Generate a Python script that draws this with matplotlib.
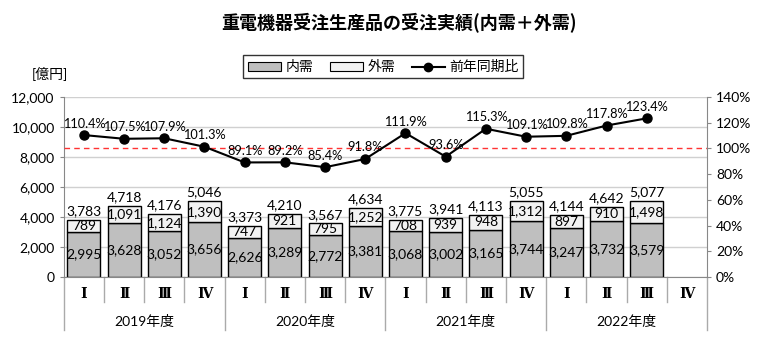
import matplotlib
matplotlib.use("Agg")
import matplotlib.pyplot as plt
import matplotlib.patches as mpatches
import matplotlib.lines as mlines
import numpy as np

plt.rcParams['font.family'] = ['Lato', 'Noto Sans CJK JP', 'DejaVu Sans']

# ===============================
# DATA
# ===============================
years = ["2019年度", "2020年度", "2021年度", "2022年度"]
quarters = ["Ⅰ", "Ⅱ", "Ⅲ", "Ⅳ"]

domestic = [2995, 3628, 3052, 3656, 2626, 3289, 2772, 3381,
            3068, 3002, 3165, 3744, 3247, 3732, 3579]
overseas = [789, 1091, 1124, 1390, 747, 921, 795, 1252,
            708, 939, 948, 1312, 897, 910, 1498]
totals = [3783, 4718, 4176, 5046, 3373, 4210, 3567, 4634,
          3775, 3941, 4113, 5055, 4144, 4642, 5077]
yoy = [110.4, 107.5, 107.9, 101.3, 89.1, 89.2, 85.4, 91.8,
       111.9, 93.6, 115.3, 109.1, 109.8, 117.8, 123.4]

n_slots = len(years) * len(quarters)
x = np.arange(len(domestic))

# ===============================
# FIGURE
# ===============================
fig = plt.figure(figsize=(7.68, 3.61), dpi=100)
ax = fig.add_axes([0.083, 0.2327, 0.8376, 0.4986])
ax2 = ax.twinx()

gray = "#bfbfbf"
light = "#f2f2f2"
fs = 10

ax.set_axisbelow(True)
ax.yaxis.grid(True, color="#d0d0d0", linewidth=1)
bw = 0.82
ax.bar(x, domestic, width=bw, color=gray, edgecolor="black", linewidth=1, zorder=2)
ax.bar(x, overseas, width=bw, bottom=domestic, color=light, edgecolor="black",
       linewidth=1, zorder=2)

for i in x:
    ax.text(i, domestic[i] / 2, f"{domestic[i]:,}", ha="center", va="center",
            fontsize=fs, zorder=3)
    ax.text(i, domestic[i] + overseas[i] / 2, f"{overseas[i]:,}", ha="center",
            va="center", fontsize=fs, zorder=3)
    ax.annotate(f"{totals[i]:,}", (i, domestic[i] + overseas[i]),
                xytext=(0, 2), textcoords="offset points", ha="center",
                va="bottom", fontsize=fs)

ax.set_xlim(-0.5, n_slots - 0.5)
ax.set_ylim(0, 12000)
ax.set_yticks(range(0, 12001, 2000))
ax.yaxis.set_major_formatter(matplotlib.ticker.StrMethodFormatter("{x:,.0f}"))
ax.tick_params(axis="y", labelsize=fs, length=3, color="#888888")
ax.set_xticks([])
for s in ["top", "right"]:
    ax.spines[s].set_visible(False)
ax.spines["left"].set_color("#888888")
ax.spines["bottom"].set_color("#888888")

# right axis - year on year ratio
ax2.set_ylim(0, 140)
ax2.set_yticks(range(0, 141, 20))
ax2.set_yticklabels([f"{v}%" for v in range(0, 141, 20)])
ax2.tick_params(axis="y", labelsize=fs, length=3, color="#888888")
for s in ["top", "left", "bottom"]:
    ax2.spines[s].set_visible(False)
ax2.spines["right"].set_color("#888888")
ax2.axhline(100, color="#ff3333", linestyle=(0, (4, 3)), linewidth=1)
ax2.plot(x, yoy, color="black", linewidth=1.5, marker="o", markersize=6.5, zorder=4)
for i in x:
    ax2.annotate(f"{yoy[i]:.1f}%", (i, yoy[i]), xytext=(0, 4),
                 textcoords="offset points", ha="center", va="bottom",
                 fontsize=9.2, annotation_clip=False)

# multi-level category axis
tr = ax.get_xaxis_transform()
for k in range(n_slots + 1):
    xb = k - 0.5
    low = -0.295 if k % 4 == 0 else -0.14
    ax.plot([xb, xb], [0, low], transform=tr, color="#aaaaaa", linewidth=1,
            clip_on=False)
for k in range(n_slots):
    ax.text(k, -0.095, quarters[k % 4], transform=tr, ha="center", va="center",
            fontsize=10, fontweight="bold",
            family=["DejaVu Serif", "Noto Sans CJK JP"])
for j, yr in enumerate(years):
    ax.text(j * 4 + 1.5, -0.25, yr, transform=tr, ha="center", va="center",
            fontsize=fs)

# title, unit, legend
fig.text(0.52, 0.935, "重電機器受注生産品の受注実績(内需＋外需)", ha="center",
         va="center", fontsize=13, fontweight="bold",
         family=["Noto Sans CJK JP", "DejaVu Sans"])
fig.text(0.065, 0.797, "[億円]", ha="center", va="center", fontsize=fs)

h1 = mpatches.Patch(facecolor=gray, edgecolor="black", linewidth=0.8, label="内需")
h2 = mpatches.Patch(facecolor=light, edgecolor="black", linewidth=0.8, label="外需")
h3 = mlines.Line2D([], [], color="black", marker="o", markersize=6, linewidth=1.5,
                   label="前年同期比")
leg = fig.legend(handles=[h1, h2, h3], loc="center", bbox_to_anchor=(0.499, 0.815),
                 ncol=3, fontsize=fs, frameon=True, fancybox=False,
                 handlelength=2.4, handleheight=0.6, columnspacing=1.2,
                 handletextpad=0.3, borderpad=0.35)
leg.get_frame().set_edgecolor("black")
leg.get_frame().set_linewidth(1)

fig.savefig("out.png", dpi=100)
